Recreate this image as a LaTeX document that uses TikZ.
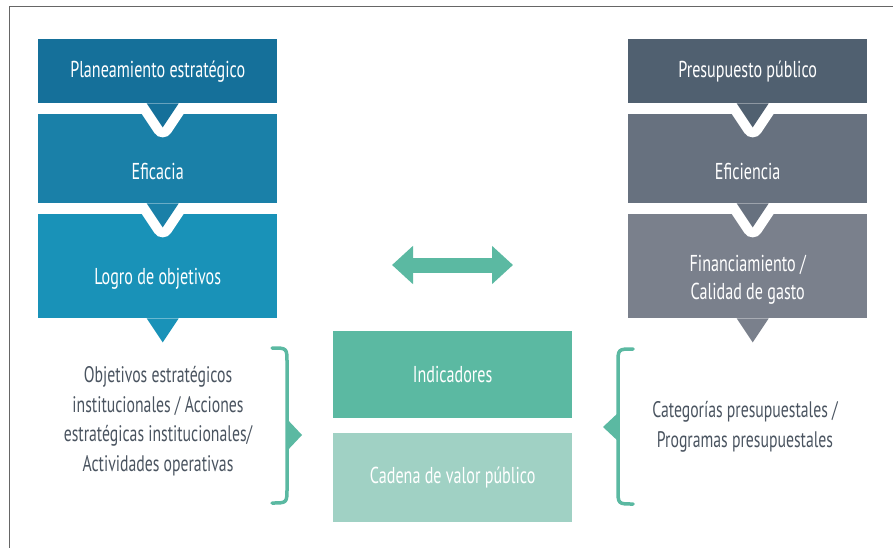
\documentclass[tikz,border=0pt]{standalone}
\usepackage{fontspec}
\setmainfont{PT Sans}[FakeStretch=0.70]
\usetikzlibrary{arrows.meta}

\definecolor{planA}{HTML}{15709A}
\definecolor{planB}{HTML}{1A80A8}
\definecolor{planC}{HTML}{1992B8}
\definecolor{presA}{HTML}{506070}
\definecolor{presB}{HTML}{67717F}
\definecolor{presC}{HTML}{7A808C}
\definecolor{indA}{HTML}{5BB9A2}
\definecolor{indB}{HTML}{A0D1C4}
\definecolor{desc}{HTML}{4A5460}

\tikzset{
  stage/.style={minimum width=239pt, inner sep=0pt, anchor=north west},
  lbl/.style={text=white, align=center, font=\fontsize{23}{28}\selectfont},
  desctext/.style={text=desc, align=center, font=\fontsize{22.5}{29.5}\selectfont},
  brace/.style={draw=indA, line width=3.5pt, line cap=round, line join=round},
  link/.style={draw=indA, line width=15pt, {Triangle[length=21pt,width=37pt]}-{Triangle[length=21pt,width=37pt]}}
}

% pointer under a box, with a white rim where it cuts into the next box
\newcommand{\drawpointer}[2]{%
  \begin{scope}
    \clip ([xshift=-40pt]#1.south west) rectangle ([xshift=40pt,yshift=-60pt]#1.south east);
    \draw[white, line width=20pt, line join=round] ([xshift=-11pt]#1.south) -- ([xshift=5pt,yshift=-24pt]#1.south) -- ([xshift=21pt]#1.south);
  \end{scope}
  \fill[#2] ([xshift=-11pt]#1.south) -- ([xshift=5pt,yshift=-24pt]#1.south) -- ([xshift=21pt]#1.south) -- cycle;
}

\begin{document}
\begin{tikzpicture}[x=1pt,y=-1pt]
\useasboundingbox (0,0) rectangle (893,548);
\draw[gray!80!black, line width=1.4pt] (9.5,548) -- (9.5,6.5) -- (893,6.5);

% left column
\node[stage, fill=planA, minimum height=64pt] (plan) at (38,39) {};
\node[stage, fill=planB, minimum height=89pt] (eficacia) at (38,114) {};
\node[stage, fill=planC, minimum height=104pt] (logro) at (38,214) {};

% right column
\node[stage, fill=presA, minimum height=64pt] (presup) at (628,39) {};
\node[stage, fill=presB, minimum height=89pt] (eficiencia) at (628,114) {};
\node[stage, fill=presC, minimum height=104pt] (financ) at (628,214) {};

\drawpointer{plan}{planA}
\drawpointer{eficacia}{planB}
\drawpointer{logro}{planC}
\drawpointer{presup}{presA}
\drawpointer{eficiencia}{presB}
\drawpointer{financ}{presC}

\node[lbl] (t-plan) at (plan.center) {Planeamiento estratégico};
\node[lbl] (t-eficacia) at ([yshift=-13pt]eficacia.center) {Eficacia};
\node[lbl] (t-logro) at ([yshift=-13pt]logro.center) {Logro de objetivos};
\node[lbl] (t-presup) at (presup.center) {Presupuesto público};
\node[lbl] (t-eficiencia) at ([yshift=-13pt]eficiencia.center) {Eficiencia};
\node[lbl] (t-financ) at ([yshift=-14pt]financ.center) {Financiamiento /\\Calidad de gasto};

% centre
\node[stage, fill=indA, minimum height=87pt] (indic) at (333,331) {};
\node[stage, fill=indB, minimum height=89pt] (cadena) at (333,433) {};
\node[lbl] (t-indic) at (indic.center) {Indicadores};
\node[lbl] (t-cadena) at (cadena.center) {Cadena de valor público};

\coordinate (lft) at (392,265);
\coordinate (rgt) at (513,265);
\draw[link] (lft) -- (rgt);

% descriptions and braces
\node[desctext] (objetivos) at (158,421) {Objetivos estratégicos\\institucionales / Acciones\\estratégicas institucionales/\\Actividades operativas};
\node[desctext] (categorias) at (745,427) {Categorías presupuestales /\\Programas presupuestales};

\draw[brace] (272,348) .. controls (287,348) .. (287,363) -- (287,488) .. controls (287,503) .. (272,503);
\fill[indA] (286,418) -- (302,435) -- (286,452) -- cycle;
\draw[brace] (633,349) .. controls (618,349) .. (618,364) -- (618,489) .. controls (618,504) .. (633,504);
\fill[indA] (619,412) -- (603,427) -- (619,442) -- cycle;
\end{tikzpicture}
\end{document}
